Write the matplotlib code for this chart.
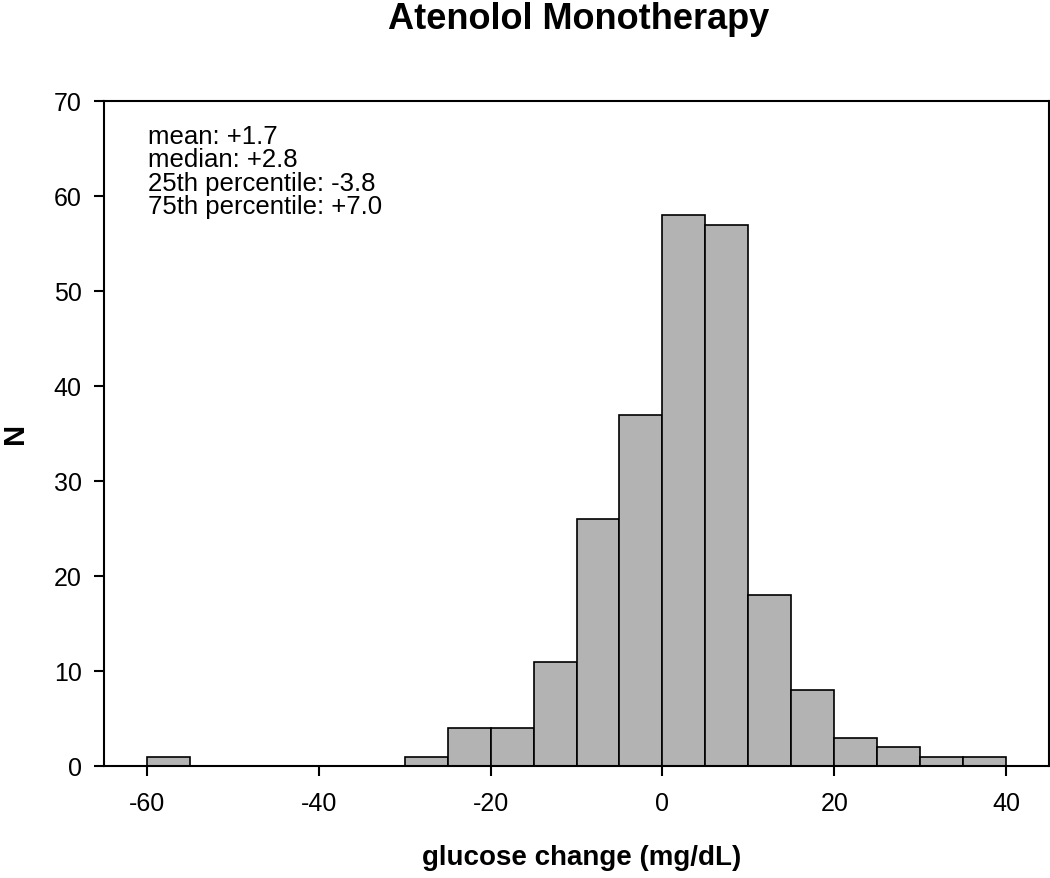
import numpy as np
import matplotlib
matplotlib.use("Agg")
import matplotlib.pyplot as plt

# histogram bins (left edges, width 5) and counts
bin_lefts = [-60, -55, -50, -45, -40, -35, -30, -25, -20, -15, -10, -5,
             0, 5, 10, 15, 20, 25, 30, 35]
counts = [1, 0, 0, 0, 0, 0, 1, 4, 4, 11, 26, 37, 58, 57, 18, 8, 3, 2, 1, 1]
bin_width = 5

x_ticks = [-60, -40, -20, 0, 20, 40]
y_ticks = [0, 10, 20, 30, 40, 50, 60, 70]

stats_lines = ["mean: +1.7", "median: +2.8",
               "25th percentile: -3.8", "75th percentile: +7.0"]

plt.rcParams['font.family'] = ['Liberation Sans', 'DejaVu Sans']
plt.rcParams['axes.unicode_minus'] = False

fig = plt.figure(figsize=(10.5, 8.79), dpi=100)
ax = fig.add_axes([104 / 1050, 1 - 767 / 879, (1049 - 104) / 1050, (767 - 102) / 879])

ax.bar(bin_lefts, counts, width=bin_width, align='edge',
       color='#b3b3b3', edgecolor='black', linewidth=1.2)

ax.set_xlim(-65, 45)
ax.set_ylim(0, 70)
ax.set_xticks(x_ticks)
ax.set_yticks(y_ticks)
ax.tick_params(axis='both', direction='out', length=7, width=1.5, labelsize=18)
ax.tick_params(axis='x', pad=11)
ax.tick_params(axis='y', pad=9)
for sp in ax.spines.values():
    sp.set_linewidth(1.5)

ax.set_xlabel("glucose change (mg/dL)", fontsize=20, fontweight='bold')
ax.xaxis.set_label_coords(0.505, -(858 - 767) / 665)
ax.xaxis.label.set_va('center')
ax.set_ylabel("N", fontsize=21, fontweight='bold')
ax.yaxis.set_label_coords(-(104 - 15) / 945, (767 - 433) / 665)
ax.yaxis.label.set_va('center')

for i, line in enumerate(stats_lines):
    ax.text(148 / 1050, 1 - (144 + 23.3 * i) / 879, line, transform=fig.transFigure,
            fontsize=18.5, va='baseline', ha='left')

fig.text(579 / 1050, 1 - 29 / 879, "Atenolol Monotherapy", fontsize=26,
         fontweight='bold', ha='center', va='baseline')

fig.savefig("out.png", dpi=100)
